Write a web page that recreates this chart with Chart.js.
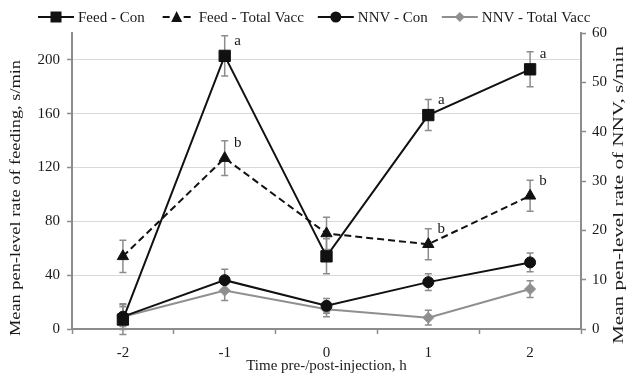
<!DOCTYPE html>
<html><head><meta charset="utf-8">
<script src="https://cdn.jsdelivr.net/npm/chart.js@4/dist/chart.umd.min.js"></script>
<style>html,body{margin:0;padding:0;background:#fff;}#wrap{width:630px;height:375px;position:relative;}</style>
</head><body><div id="wrap"><canvas id="c"></canvas></div>
<script>
const categories = ['-2', '-1', '0', '1', '2'];
const feedCon = [7, 203, 54, 159, 193];
const feedConErr = [11, 15, 13, 11.5, 13];
const feedVacc = [54, 127, 71, 63, 99];
const feedVaccErr = [12, 13, 12, 11.5, 11.5];
const nnvCon = [2.5, 9.9, 4.7, 9.5, 13.5];
const nnvConErr = [2, 2.2, 1.5, 1.7, 1.9];
const nnvVacc = [2.5, 7.8, 4.0, 2.3, 8.1];
const nnvVaccErr = [2.6, 2, 1.5, 1.5, 1.7];
const feedConSig = ['', 'a', '', 'a', 'a'];
const feedVaccSig = ['', 'b', '', 'b', 'b'];
const leftTicks = [0, 40, 80, 120, 160, 200];
const rightTicks = [0, 10, 20, 30, 40, 50, 60];
const seriesNames = ['Feed - Con', 'Feed - Total Vacc', 'NNV - Con', 'NNV - Total Vacc'];
const xTitle = 'Time pre-/post-injection, h';
const leftTitle = 'Mean pen-level rate of feeding, s/min';
const rightTitle = 'Mean pen-level rate of NNV, s/min';

const FONT = 'Liberation Serif';
const TXT = '#1a1a1a';
const AXIS = '#8c8c8c';
const GREY = '#8f8f8f';
const font = {family: FONT, size: 15};
const markers = ['rect', 'tri', 'circle', 'dia'];
const markerColors = ['#111', '#111', '#111', GREY];

function drawMarker(g, kind, cx, cy, color, dashed) {
  g.save();
  g.strokeStyle = color; g.fillStyle = color; g.lineWidth = 2;
  g.beginPath();
  if (dashed) {
    g.moveTo(cx - 14, cy); g.lineTo(cx - 7, cy); g.moveTo(cx + 7, cy); g.lineTo(cx + 14, cy);
  } else {
    g.moveTo(cx - 18, cy); g.lineTo(cx + 18, cy);
  }
  g.stroke();
  g.beginPath();
  if (kind === 'rect') g.rect(cx - 5.5, cy - 5.5, 11, 11);
  else if (kind === 'tri') { g.moveTo(cx, cy - 6); g.lineTo(cx + 5.5, cy + 5); g.lineTo(cx - 5.5, cy + 5); g.closePath(); }
  else if (kind === 'circle') g.arc(cx, cy, 5.5, 0, Math.PI * 2);
  else { g.moveTo(cx, cy - 5); g.lineTo(cx + 5, cy); g.lineTo(cx, cy + 5); g.lineTo(cx - 5, cy); g.closePath(); }
  g.fill();
  g.restore();
}

const customLegend = {
  id: 'customLegend',
  afterDraw(chart) {
    const ctx = chart.ctx;
    ctx.save();
    ctx.font = '15px "' + FONT + '"';
    ctx.fillStyle = TXT; ctx.textAlign = 'left'; ctx.textBaseline = 'middle';
    let cx = 56;
    const cy = 17;
    chart.data.datasets.forEach((ds, i) => {
      drawMarker(ctx, markers[i], cx, cy, markerColors[i], i === 1);
      ctx.fillStyle = TXT;
      const tx = cx + 22;
      ctx.fillText(ds.label, tx, cy + 1);
      cx = tx + ctx.measureText(ds.label).width + 32;
    });
    ctx.restore();
  }
};

const errorBars = {
  id: 'errorBars',
  beforeDatasetsDraw(chart) {
    const ctx = chart.ctx;
    ctx.save();
    ctx.strokeStyle = AXIS; ctx.lineWidth = 1.5;
    chart.data.datasets.forEach((ds, di) => {
      const meta = chart.getDatasetMeta(di);
      const ys = chart.scales[ds.yAxisID];
      meta.data.forEach((pt, i) => {
        const v = ds.data[i], e = ds.errors[i];
        const t = ys.getPixelForValue(v + e), b = ys.getPixelForValue(v - e);
        ctx.beginPath();
        ctx.moveTo(pt.x, t); ctx.lineTo(pt.x, b);
        ctx.moveTo(pt.x - 3.5, t); ctx.lineTo(pt.x + 3.5, t);
        ctx.moveTo(pt.x - 3.5, b); ctx.lineTo(pt.x + 3.5, b);
        ctx.stroke();
      });
    });
    ctx.restore();
  }
};

const sigLabels = {
  id: 'sigLabels',
  afterDatasetsDraw(chart) {
    const ctx = chart.ctx;
    ctx.save();
    ctx.font = '15px "' + FONT + '"';
    ctx.fillStyle = TXT; ctx.textAlign = 'center'; ctx.textBaseline = 'middle';
    chart.data.datasets.forEach((ds, di) => {
      if (!ds.sig) return;
      const meta = chart.getDatasetMeta(di);
      meta.data.forEach((pt, i) => {
        if (ds.sig[i]) ctx.fillText(ds.sig[i], pt.x + 13, pt.y - 15);
      });
    });
    ctx.restore();
  }
};

function drawVTitle(ctx, text, cx, cy, len) {
  ctx.save();
  ctx.font = '15px "' + FONT + '"';
  ctx.fillStyle = TXT; ctx.textAlign = 'center'; ctx.textBaseline = 'middle';
  const w = ctx.measureText(text).width;
  ctx.translate(cx, cy);
  ctx.rotate(-Math.PI / 2);
  ctx.scale(len / w, 1);
  ctx.fillText(text, 0, 0);
  ctx.restore();
}

const yTitles = {
  id: 'yTitles',
  afterDraw(chart) {
    drawVTitle(chart.ctx, leftTitle, 16, 198, 276);
    drawVTitle(chart.ctx, rightTitle, 619, 195, 298);
  }
};

new Chart(document.getElementById('c'), {
  type: 'line',
  data: {
    labels: categories,
    datasets: [
      {label: seriesNames[0], data: feedCon, errors: feedConErr, sig: feedConSig, yAxisID: 'y',
       borderColor: '#111', backgroundColor: '#111', borderWidth: 2, pointStyle: 'rect', pointRadius: 8, pointBorderWidth: 1},
      {label: seriesNames[1], data: feedVacc, errors: feedVaccErr, sig: feedVaccSig, yAxisID: 'y',
       borderColor: '#111', backgroundColor: '#111', borderWidth: 2, borderDash: [7, 4], pointStyle: 'triangle', pointRadius: 6.5, pointBorderWidth: 1},
      {label: seriesNames[2], data: nnvCon, errors: nnvConErr, yAxisID: 'y1',
       borderColor: '#111', backgroundColor: '#111', borderWidth: 2, pointStyle: 'circle', pointRadius: 5.5, pointBorderWidth: 1},
      {label: seriesNames[3], data: nnvVacc, errors: nnvVaccErr, yAxisID: 'y1',
       borderColor: GREY, backgroundColor: GREY, borderWidth: 2, pointStyle: 'rectRot', pointRadius: 5.5, pointBorderWidth: 1}
    ]
  },
  options: {
    responsive: true, maintainAspectRatio: false, animation: false,
    layout: {padding: {top: 33, left: 0, right: 0, bottom: 0}},
    plugins: {
      tooltip: {enabled: false},
      legend: {display: false}
    },
    scales: {
      x: {
        type: 'category', offset: true,
        grid: {offset: true, drawOnChartArea: false, tickLength: 5, tickColor: AXIS, tickWidth: 1.5},
        border: {color: AXIS, width: 2},
        ticks: {font: font, color: TXT, padding: 10, maxRotation: 0},
        title: {display: true, text: xTitle, font: font, color: TXT, padding: {top: 0, bottom: 0}},
        afterFit: s => { s.height = 46; }
      },
      y: {
        position: 'left', min: 0, max: 220,
        afterBuildTicks: s => { s.ticks = leftTicks.map(v => ({value: v})); },
        grid: {color: '#d9d9d9', tickColor: AXIS, tickLength: 5, tickWidth: 1.5},
        border: {color: AXIS, width: 2},
        ticks: {font: font, color: TXT, padding: 7},
        afterFit: s => { s.width = 72; }
      },
      y1: {
        position: 'right', min: 0, max: 60,
        afterBuildTicks: s => { s.ticks = rightTicks.map(v => ({value: v})); },
        grid: {drawOnChartArea: false, tickColor: AXIS, tickLength: 5, tickWidth: 1.5},
        border: {color: AXIS, width: 2},
        ticks: {font: font, color: TXT, padding: 6},
        afterFit: s => { s.width = 49; }
      }
    }
  },
  plugins: [errorBars, sigLabels, customLegend, yTitles]
});
</script>
</body></html>
